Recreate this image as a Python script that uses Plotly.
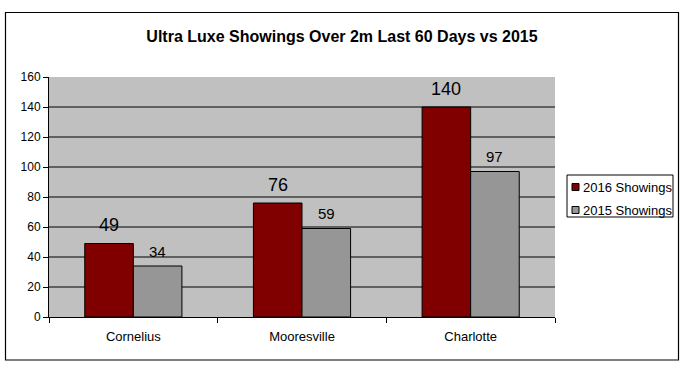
import plotly.graph_objects as go

categories = ["Cornelius", "Mooresville", "Charlotte"]
showings_2016 = [49, 76, 140]
showings_2015 = [34, 59, 97]
series_names = ["2016 Showings", "2015 Showings"]
y_ticks = [0, 20, 40, 60, 80, 100, 120, 140, 160]

COL_2016 = "#800000"
COL_2015 = "#969696"

W, H = 688, 373
L, R, T, B = 49, 133, 77, 56
pw, ph = W - L - R, H - T - B
FONT = "Liberation Sans"
BARGAP = 0.424

def px_x(p):
    return (p - L) / pw

def px_y(p):
    return (H - B - p) / ph

fig = go.Figure()
fig.add_bar(
    x=categories, y=showings_2016, name=series_names[0],
    marker=dict(color=COL_2016, line=dict(color="black", width=1)),
    showlegend=False,
)
fig.add_bar(
    x=categories, y=showings_2015, name=series_names[1],
    marker=dict(color=COL_2015, line=dict(color="black", width=1)),
    showlegend=False,
)

shapes = [
    # outer chart border
    dict(type="rect", xref="paper", yref="paper",
         x0=px_x(5.5), x1=px_x(678.5), y0=px_y(360), y1=px_y(12.5),
         line=dict(color="black", width=1.2), fillcolor="rgba(0,0,0,0)",
         layer="below"),
    # legend box
    dict(type="rect", xref="paper", yref="paper",
         x0=px_x(567), x1=px_x(673), y0=px_y(217), y1=px_y(175),
         line=dict(color="black", width=1), fillcolor="white"),
]
# horizontal gridlines (not at the top edge)
for v in y_ticks[1:-1]:
    shapes.append(dict(type="line", xref="paper", yref="y",
                       x0=0, x1=1, y0=v, y1=v,
                       line=dict(color="black", width=1), layer="below"))

annotations = []
# value labels above bars (offset by half a bar width within each group)
cat_px = pw / len(categories)
half_bar = cat_px * (1 - BARGAP) / 4
for series, shift, size, lift in [(showings_2016, -half_bar, 18, 18.5),
                                  (showings_2015, half_bar, 15, 15)]:
    for c, v in zip(categories, series):
        annotations.append(dict(x=c, y=v, xref="x", yref="y", text=str(v),
                                showarrow=False, xshift=shift, yshift=lift,
                                xanchor="center", yanchor="middle",
                                font=dict(size=size, family=FONT, color="black")))

for i, (name, col) in enumerate([(series_names[0], COL_2016), (series_names[1], COL_2015)]):
    cy = 187 + i * 23
    shapes.append(dict(type="rect", xref="paper", yref="paper",
                       x0=px_x(572), x1=px_x(579), y0=px_y(cy + 3.5), y1=px_y(cy - 3.5),
                       line=dict(color="black", width=1), fillcolor=col))
    annotations.append(dict(xref="paper", yref="paper", x=px_x(581), y=px_y(cy),
                            xanchor="left", yanchor="middle", text=name, showarrow=False,
                            font=dict(size=13, family=FONT, color="black")))

fig.update_layout(
    width=W, height=H,
    margin=dict(l=L, r=R, t=T, b=B, autoexpand=False),
    paper_bgcolor="white",
    plot_bgcolor="#C0C0C0",
    barmode="group",
    bargap=BARGAP,
    bargroupgap=0,
    showlegend=False,
    font=dict(family=FONT, size=12, color="black"),
    title=dict(
        text="<b>Ultra Luxe Showings Over 2m Last 60 Days vs 2015</b>",
        x=342 / W, xanchor="center",
        y=1 - 36 / H, yanchor="middle", yref="container",
        font=dict(size=16, family=FONT, color="black"),
    ),
    shapes=shapes,
    annotations=annotations,
)
fig.update_xaxes(
    showline=True, linecolor="black", linewidth=1,
    ticks="outside", tickson="boundaries", ticklen=5, tickcolor="black",
    ticklabelstandoff=7,
    showgrid=False,
    tickfont=dict(size=13),
)
fig.update_yaxes(
    range=[0, 160], tickvals=y_ticks,
    showline=True, linecolor="black", linewidth=1,
    ticks="outside", ticklen=5, tickcolor="black",
    showgrid=False, zeroline=False,
    tickfont=dict(size=12),
)

fig.write_html("out.html", config={"displayModeBar": False},
               post_script="document.body.style.margin='0';")
